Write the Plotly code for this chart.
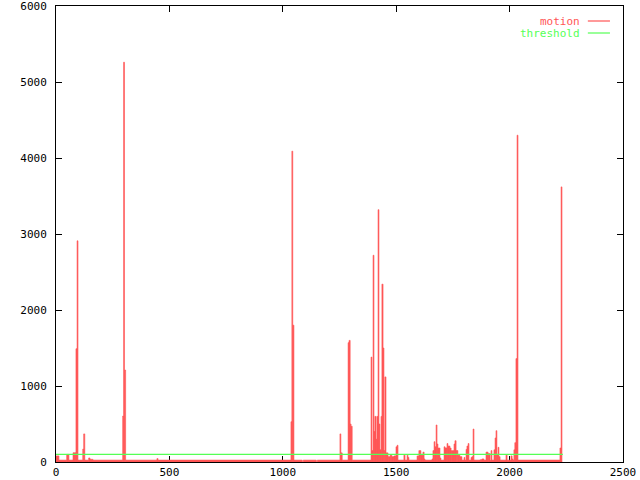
import numpy as np
import plotly.graph_objects as go

# motion: step segments (frame where segment starts, value); last frame closes the series
motion_frames = [0, 13, 47, 57, 75, 88, 93, 97, 118, 122, 127, 144, 150, 163,
                 294, 298, 302, 307, 445, 450,
                 1036, 1040, 1044, 1049, 1086, 1090, 1148, 1152,
                 1252, 1256, 1262, 1288, 1292, 1297, 1301, 1306,
                 1389, 1393, 1398, 1402, 1406, 1411, 1415, 1420, 1424, 1428, 1433, 1437, 1442, 1446, 1450,
                 1455, 1464, 1473, 1481, 1490, 1499, 1504, 1508, 1534, 1539, 1548, 1552, 1556,
                 1592, 1600, 1609, 1618, 1623, 1627, 1658, 1662, 1667, 1671, 1676, 1680, 1684, 1693, 1697,
                 1711, 1715, 1720, 1724, 1728, 1737, 1742, 1755, 1759, 1764, 1772, 1781, 1790,
                 1799, 1803, 1808, 1812, 1817, 1821, 1830, 1834, 1839, 1843,
                 1870, 1878, 1887, 1896, 1905, 1914, 1918, 1922, 1931, 1936, 1940, 1944, 1949, 1953, 1958,
                 1984, 1989, 2006, 2011, 2015, 2019, 2023, 2028, 2033, 2037,
                 2222, 2227, 2231, 2235]
motion_values = [80, 25, 100, 25, 122, 1490, 2910, 25, 170, 370, 25, 53, 35, 25,
                 605, 5260, 1210, 25, 45, 25,
                 530, 4090, 1800, 25, 0, 25, 0, 25,
                 370, 120, 25, 1570, 1600, 500, 470, 25,
                 1380, 150, 2720, 400, 600, 300, 600, 3320, 500, 160, 600, 2340, 1500, 150, 1120,
                 120, 70, 90, 70, 80, 200, 220, 25, 90, 25, 90, 60, 25,
                 80, 150, 90, 130, 40, 25, 40, 150, 267, 200, 487, 237, 184, 53, 25,
                 200, 185, 185, 243, 210, 184, 150, 237, 280, 150, 90, 70, 25,
                 60, 25, 166, 210, 243, 25, 60, 70, 434, 25,
                 30, 40, 25, 130, 110, 20, 150, 25, 160, 316, 412, 100, 193, 70, 25,
                 90, 25, 80, 40, 25, 160, 254, 1360, 4300, 25,
                 184, 3620, 0]

threshold_frames = [0, 2235]
threshold_values = [100, 100]

x_ticks = [0, 500, 1000, 1500, 2000, 2500]
y_ticks = [0, 1000, 2000, 3000, 4000, 5000, 6000]

RED = "#ff5555"
GREEN = "#55ff55"
FONT = "DejaVu Sans Mono"

starts = np.array(motion_frames[:-1], dtype=float)
widths = np.diff(np.array(motion_frames, dtype=float))
vals = np.array(motion_values[:-1], dtype=float)

fig = go.Figure()
fig.add_trace(go.Bar(x=starts, y=vals, width=widths, offset=0,
                     marker=dict(color=RED, line=dict(width=0.6, color=RED)),
                     name="motion", showlegend=False))
fig.add_trace(go.Scatter(x=threshold_frames, y=threshold_values, mode="lines",
                         line=dict(color=GREEN, width=1.2), name="threshold",
                         showlegend=False))

axis_common = dict(showgrid=False, zeroline=False, showline=True, linecolor="black",
                   linewidth=1, mirror="ticks", ticks="inside", ticklen=6,
                   tickcolor="black", tickwidth=1, automargin=False,
                   ticklabeloverflow="allow",
                   tickfont=dict(family=FONT, size=11, color="black"),
                   layer="below traces")
fig.update_xaxes(range=[0, 2500], tickvals=x_ticks, ticktext=[str(v) for v in x_ticks],
                 ticklabelstandoff=0, **axis_common)
fig.update_yaxes(range=[0, 6000], tickvals=y_ticks, ticktext=[str(v) for v in y_ticks],
                 ticklabelstandoff=6, **axis_common)

# legend drawn gnuplot style: text right-aligned, sample line to the right
legend_items = [("motion", RED, 21), ("threshold", GREEN, 33)]
for label, color, ypix in legend_items:
    ypos = (462 - ypix) / 456
    fig.add_annotation(x=0.926, y=ypos, xref="paper", yref="paper", text=label,
                       showarrow=False, xanchor="right", yanchor="middle", borderpad=0,
                       font=dict(family=FONT, size=11, color=color))
    fig.add_shape(type="line", xref="paper", yref="paper", x0=0.938, x1=0.977,
                  y0=ypos, y1=ypos, line=dict(color=color, width=1.2))

fig.update_layout(width=640, height=480, autosize=False,
                  margin=dict(l=56, r=17, t=6, b=18),
                  plot_bgcolor="white", paper_bgcolor="white",
                  bargap=0, showlegend=False, hovermode=False)

fig.write_html("out.html", config={"displayModeBar": False, "staticPlot": True},
               post_script="document.body.style.margin='0';document.body.style.padding='0';")
